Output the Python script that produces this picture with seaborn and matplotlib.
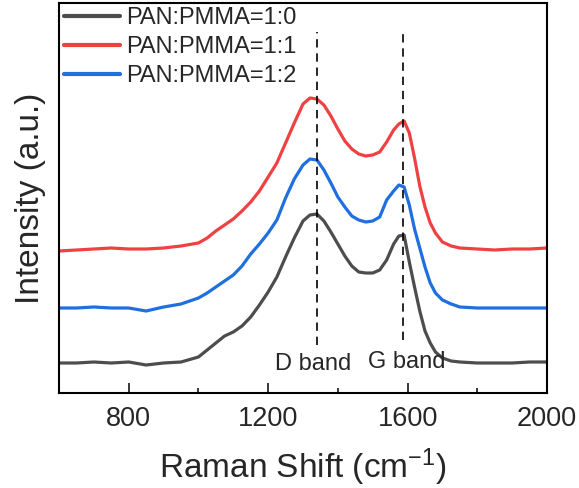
import numpy as np
import pandas as pd
import matplotlib
matplotlib.use("Agg")
import matplotlib.pyplot as plt
import seaborn as sns
from matplotlib.ticker import MultipleLocator, NullLocator

# ---- data (intensity in arbitrary, offset units) ----
raman_shift = [600, 650, 700, 750, 800, 850, 900, 950, 1000, 1025, 1050, 1075, 1100, 1125, 1150, 1175,
               1200, 1225, 1250, 1275, 1300, 1320, 1340, 1360, 1380, 1400, 1420,
               1440, 1460, 1480, 1500, 1520, 1540, 1560, 1575, 1590, 1605, 1620,
               1635, 1650, 1665, 1680, 1700, 1725, 1750, 1800, 1850, 1900, 1950, 2000]

int_1_0 = [30, 30, 31, 30, 31, 28, 30, 31, 36, 43, 50, 57, 61, 67, 76, 88,
           101, 116, 136, 155, 172, 178, 179, 172, 161, 149, 137,
           127, 121, 120, 120, 123, 133, 149, 157, 158, 131, 106,
           82, 62, 50, 41, 35, 32, 31, 30, 30, 30, 31, 31]

int_1_1 = [142, 143, 144, 145, 144, 144, 145, 147, 150, 155, 162, 168, 174, 182, 191, 202,
           216, 230, 250, 270, 289, 295, 294, 288, 277, 264, 252,
           244, 239, 237, 238, 241, 251, 263, 269, 272, 260, 235,
           207, 186, 170, 160, 151, 147, 145, 144, 143, 144, 144, 145]

int_1_2 = [85, 85, 86, 85, 85, 82, 86, 89, 95, 100, 106, 112, 118, 127, 139, 149,
           160, 173, 195, 214, 228, 234, 233, 223, 210, 196, 186,
           177, 173, 171, 172, 176, 193, 202, 208, 206, 188, 164,
           145, 126, 110, 100, 93, 89, 86, 85, 85, 85, 85, 85]

labels = ["PAN:PMMA=1:0", "PAN:PMMA=1:1", "PAN:PMMA=1:2"]
colors = ["#4d4d4d", "#ef4141", "#1f6fdf"]

band_names = ["D band", "G band"]
band_pos = [1340, 1588]

# ---- long-format table ----
df = pd.concat([
    pd.DataFrame({"shift": raman_shift, "intensity": vals, "sample": lab})
    for vals, lab in zip([int_1_0, int_1_1, int_1_2], labels)
], ignore_index=True)

sns.set_style("white")
plt.rcParams['font.family'] = ['Liberation Sans', 'DejaVu Sans']
plt.rcParams['mathtext.fontset'] = 'custom'
plt.rcParams['mathtext.rm'] = 'Liberation Sans'
plt.rcParams['mathtext.it'] = 'Liberation Sans'

fig = plt.figure(figsize=(5.79, 4.88), dpi=100)
ax = fig.add_axes([59 / 579, 1 - 393 / 488, (547 - 59) / 579, (393 - 3) / 488])

sns.lineplot(data=df, x="shift", y="intensity", hue="sample", hue_order=labels,
             palette=colors, linewidth=2.3, ax=ax, estimator=None, sort=False)

# dashed band markers
ax.vlines(band_pos[0], 48, 361, colors="black", linestyles=(0, (5, 3.5)), linewidth=1.2)
ax.vlines(band_pos[1], 53, 361, colors="black", linestyles=(0, (5, 3.5)), linewidth=1.2)
ax.text(1329, 29, band_names[0], ha="center", va="center", fontsize=17)
ax.text(1598, 31, band_names[1], ha="center", va="center", fontsize=17)

ax.set_xlim(600, 2000)
ax.set_ylim(0, 390)
ax.set_xticks([800, 1200, 1600, 2000])
ax.xaxis.set_minor_locator(MultipleLocator(200))
ax.yaxis.set_major_locator(NullLocator())
ax.tick_params(axis="x", which="major", direction="in", length=7, width=1.3,
               labelsize=19.5, pad=9, bottom=True)
ax.tick_params(axis="x", which="minor", direction="in", length=3.5, width=1.3, bottom=True)

for s in ax.spines.values():
    s.set_linewidth(1.5)
    s.set_color("black")

ax.set_xlabel("Raman Shift (cm$^{-1}$)", fontsize=24, labelpad=11)
ax.set_ylabel("Intensity (a.u.)", fontsize=24, labelpad=9)

leg = ax.legend(loc="upper left", bbox_to_anchor=(0.002, 1.0), frameon=False,
                prop={"size": 17}, handlelength=2.37, handletextpad=0.25,
                labelspacing=0.3, borderpad=0.0, borderaxespad=0.18)
for h in leg.get_lines():
    h.set_linewidth(3)

fig.savefig("out.png", dpi=100)
